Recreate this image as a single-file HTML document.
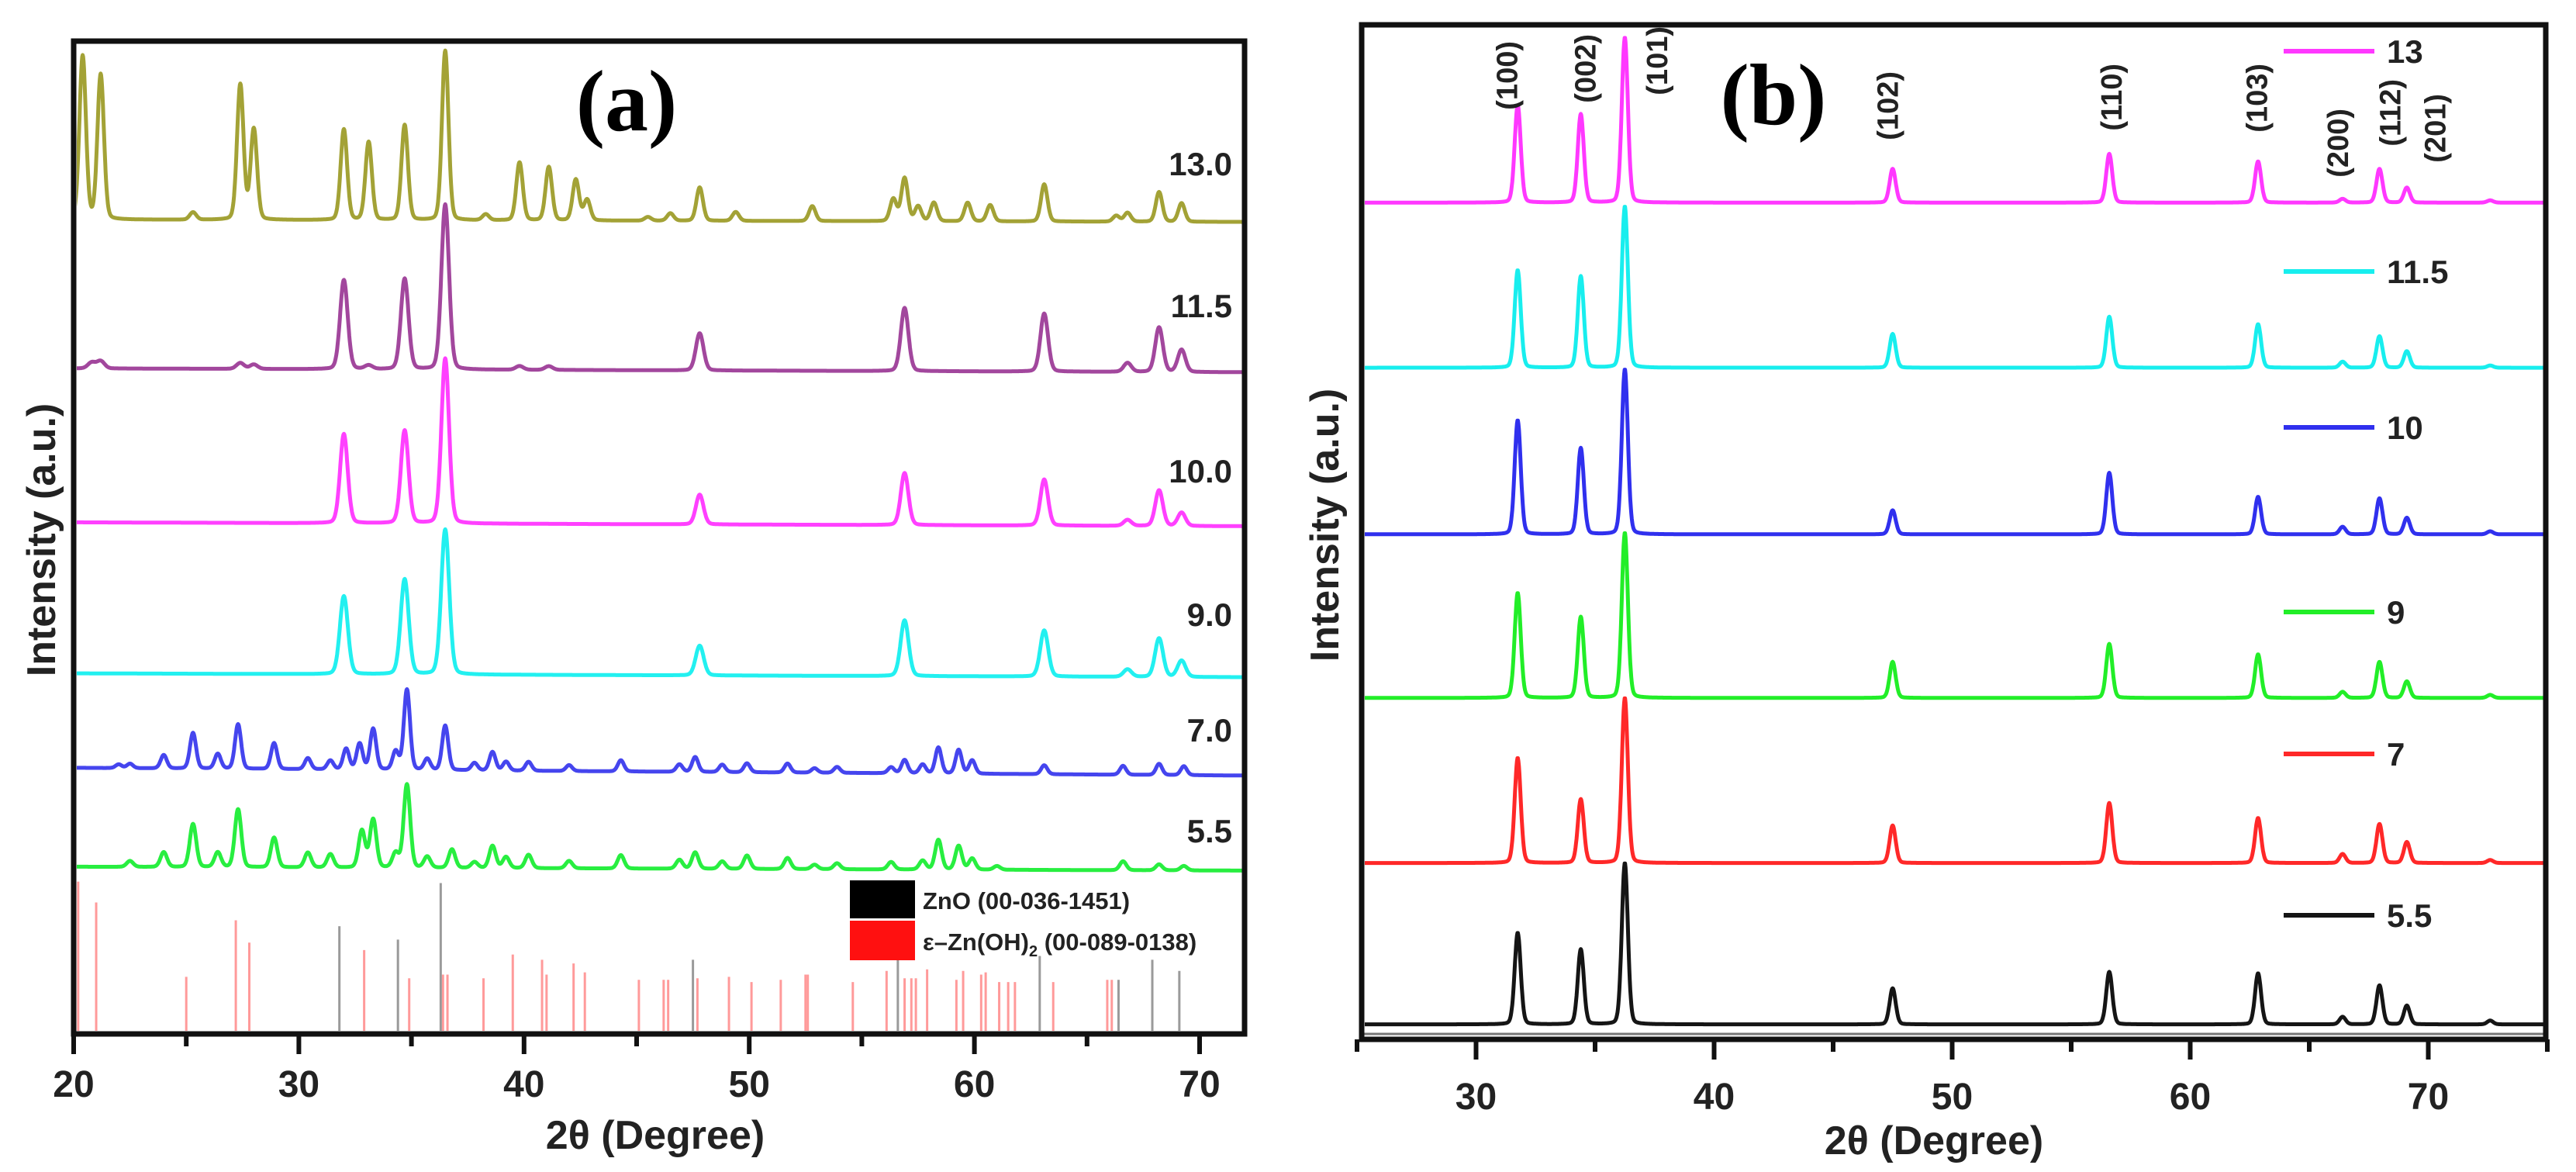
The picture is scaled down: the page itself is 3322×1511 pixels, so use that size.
<!DOCTYPE html>
<html><head><meta charset="utf-8">
<style>
html,body{margin:0;padding:0;background:#fff;}
svg{display:block;}
text{font-family:"Liberation Sans",Arial,sans-serif;font-weight:bold;fill:#222;}
</style></head>
<body>
<svg id="fig" width="3322" height="1511" viewBox="0 0 3322 1511" xmlns="http://www.w3.org/2000/svg">
<defs>
<clipPath id="clipA"><rect x="99" y="57" width="1503" height="1272"/></clipPath>
<clipPath id="clipB"><rect x="1760" y="34" width="1520" height="1302"/></clipPath>
</defs>
<g id="panelA"></g>
<g id="panelB"></g>
</svg>
<script>
// ---------- Panel (a) data ----------
const aTickLabels = [20,30,40,50,60,70];
const aSeriesNames = ["13.0","11.5","10.0","9.0","7.0","5.5"];
const aBase = [290,490,697,900,1027,1160];
const a13Pos = [20.4,21.2,25.3,27.4,28.0,32.0,33.1,34.7,36.5,38.3,39.8,41.1,42.3,42.8,45.5,46.5,47.8,49.4,52.8,56.4,56.9,57.5,58.2,59.7,60.7,63.1,66.3,66.8,68.2,69.2];
const a13H   = [220,195,10,182,122,122,105,128,228,8,78,72,55,28,5,10,45,12,20,30,58,20,25,25,22,50,8,12,40,25];
const a115Pos = [20.8,21.2,27.4,28.0,32.0,33.1,34.7,36.5,39.8,41.1,47.8,56.9,63.1,66.8,68.2,69.2];
const a115H   = [8,10,8,6,120,5,122,222,5,5,50,85,78,12,60,30];
const a10Pos = [32.0,34.7,36.5,47.8,56.9,63.1,66.8,68.2,69.2];
const a10H   = [120,125,222,40,70,62,8,48,18];
const a9Pos = [32.0,34.7,36.5,47.8,56.9,63.1,66.8,68.2,69.2];
const a9H   = [105,128,195,40,75,62,10,52,22];
const a7Pos = [22.0,22.5,24.0,25.3,26.4,27.3,28.9,30.4,31.4,32.1,32.7,33.3,34.3,34.8,35.7,36.5,37.8,38.6,39.2,40.2,42.0,44.3,46.9,47.6,48.8,49.9,51.7,52.9,53.9,56.3,56.9,57.7,58.4,59.3,59.9,63.1,66.6,68.2,69.3];
const a7H   = [5,6,18,48,20,60,35,15,12,28,35,55,25,108,15,60,10,25,12,12,8,15,10,20,10,12,12,6,8,8,18,12,35,32,18,12,12,15,12];
const a55Pos = [22.5,24.0,25.3,26.4,27.3,28.9,30.4,31.4,32.8,33.3,34.3,34.8,35.7,36.8,37.8,38.6,39.2,40.2,42.0,44.3,46.9,47.6,48.8,49.9,51.7,52.9,53.9,56.3,57.7,58.4,59.3,59.9,61.0,66.6,68.2,69.3];
const a55H   = [8,20,58,20,78,40,20,18,50,65,20,112,15,25,8,30,15,18,10,18,12,22,10,18,15,6,8,10,12,40,32,15,5,12,8,6];
const znoPos = [31.8,34.4,36.3,47.5,56.6,62.9,66.4,67.9,69.1];
const znoH   = [145,127,203,100,110,105,73,100,85];
const znohPos = [20.2,21.0,25.0,27.2,27.8,32.9,34.9,36.4,36.6,38.2,39.5,40.8,41.0,42.2,42.7,45.1,46.2,46.4,47.7,49.1,50.1,51.4,52.5,52.6,54.6,56.1,56.9,57.2,57.4,57.9,59.2,59.5,60.3,60.5,61.1,61.5,61.8,63.5,65.9,66.1];
const znohH   = [205,177,77,153,123,113,75,80,80,75,107,100,80,95,83,73,73,73,75,77,70,73,80,80,70,85,75,75,75,87,73,85,80,83,70,70,70,70,73,73];

// ---------- Panel (b) data ----------
const bTickLabels = [30,40,50,60,70];
const bPeakPos = [31.75,34.4,36.25,47.5,56.6,62.85,66.4,67.95,69.1,72.6];
const bNames = ["13","11.5","10","9","7","5.5"];
const bBase = [270,490,712,930,1150,1365];
const bH13  = [130,118,220,45,65,55,5,45,20,3];
const bH115 = [130,122,215,45,68,58,8,42,22,3];
const bH10  = [152,115,220,32,82,50,10,48,22,4];
const bH9   = [140,108,220,48,72,58,8,48,22,4];
const bH7   = [140,85,220,50,80,60,12,52,28,4];
const bH55  = [122,100,215,48,70,68,10,52,25,5];
const hklLabels = ["(100)","(002)","(101)","(102)","(110)","(103)","(200)","(112)","(201)"];
const hklPos = [31.3,34.6,37.6,47.3,56.7,62.8,66.2,68.4,70.3];

const NS="http://www.w3.org/2000/svg";
function mk(tag,attrs,parent,txt){const e=document.createElementNS(NS,tag);for(const k in attrs)e.setAttribute(k,attrs[k]);if(txt!==undefined)e.textContent=txt;parent.appendChild(e);return e;}

const ax = t => 95 + (t-20)*29.04;
const ayz = z => z*0.959 + 5;
const bx = t => 1750 + (t-25)*30.7;
const byz = z => z*0.9675;

function profile(t,pos,h,w){let s=0;for(let i=0;i<pos.length;i++){const d=(t-pos[i])/w;s+=h[i]*(0.85*Math.exp(-2.77*d*d)+0.15/(1+4*d*d));}return s;}
function pathFor(pos,h,base,w,X,Y,t0,t1,slope){let d="";for(let t=t0;t<=t1+1e-9;t+=0.02){const x=X(t),y=Y(base+slope*(t-t0)-profile(t,pos,h,w));d+=(d?"L":"M")+x.toFixed(1)+","+y.toFixed(1);}return d;}

const A=document.getElementById('panelA');
const B=document.getElementById('panelB');

// ---- Panel A ----
const gA=mk('g',{'clip-path':'url(#clipA)'},A);
const aPos=[a13Pos,a115Pos,a10Pos,a9Pos,a7Pos,a55Pos];
const aH=[a13H,a115H,a10H,a9H,a7H,a55H];
const aCol=["#a3a236","#a2479d","#ff40ff","#22f0f0","#4545ee","#28ee40"];
const aW=[0.34,0.4,0.4,0.42,0.32,0.34];
const aSlope=[0.06,0.1,0.1,0.1,0.2,0.1];
for(let s=0;s<6;s++){
  const p=mk('path',{d:pathFor(aPos[s],aH[s],aBase[s],aW[s],ax,ayz,20,72,aSlope[s]),fill:'none',stroke:aCol[s],'stroke-width':5,'stroke-linejoin':'round'},gA);
  
  
}
for(let i=0;i<znohPos.length;i++){
  const l=mk('line',{x1:ax(znohPos[i]),x2:ax(znohPos[i]),y1:ayz(1385),y2:ayz(1385-znohH[i]),stroke:'#ff9a9a','stroke-width':3},gA);
  
  
}
for(let i=0;i<znoPos.length;i++){
  const l=mk('line',{x1:ax(znoPos[i]),x2:ax(znoPos[i]),y1:ayz(1385),y2:ayz(1385-znoH[i]),stroke:'#9a9a9a','stroke-width':3},gA);
  
  
}
const aLblY=[211,394,607,792,941,1071];
for(let s=0;s<6;s++){
  const t=mk('text',{x:1589,y:aLblY[s]+15,'font-size':42,'text-anchor':'end'},A,aSeriesNames[s]);
  
  
}
const lg=mk('g',{},A);


mk('rect',{x:1096,y:1135,width:84,height:49,fill:'#000'},lg);
mk('rect',{x:1096,y:1187,width:84,height:51,fill:'#ff1010'},lg);
mk('text',{x:1190,y:1172,'font-size':31},lg,'ZnO (00-036-1451)');
const t2=mk('text',{x:1190,y:1225,'font-size':31},lg);
t2.innerHTML='ε–Zn(OH)<tspan font-size="20" dy="8">2</tspan><tspan dy="-8"> (00-089-0138)</tspan>';
const fa=mk('rect',{x:95,y:53,width:1510,height:1280,fill:'none',stroke:'#111','stroke-width':7},A);


for(let t=20;t<=72;t+=5){
  const major=(t%10===0);
  mk('line',{x1:ax(t),x2:ax(t),y1:1333,y2:1333+(major?26:16),stroke:'#111','stroke-width':6},A);
}
for(const v of aTickLabels){
  const t=mk('text',{x:ax(v),y:1414,'font-size':48,'text-anchor':'middle'},A,String(v));
  
  
}
const xa=mk('text',{x:845,y:1481,'font-size':52,'text-anchor':'middle'},A,'2θ (Degree)');


const ya=mk('text',{x:0,y:0,'font-size':52,'text-anchor':'middle',transform:'translate(71,696) rotate(-90)'},A,'Intensity (a.u.)');


const pa=mk('text',{x:808,y:168,'font-size':112,'text-anchor':'middle',style:'font-family:"Liberation Serif",serif;font-weight:bold;fill:#000'},A,'(a)');



// ---- Panel B ----
const gB=mk('g',{'clip-path':'url(#clipB)'},B);
const bH=[bH13,bH115,bH10,bH9,bH7,bH55];
const bCol=["#ff38ff","#18eeee","#3030ee","#22ee28","#ff2828","#151515"];
for(let s=0;s<6;s++){
  const p=mk('path',{d:pathFor(bPeakPos,bH[s],bBase[s],0.3,bx,byz,25,75,0),fill:'none',stroke:bCol[s],'stroke-width':5,'stroke-linejoin':'round'},gB);
  
  
}
mk('line',{x1:1756,x2:3283,y1:1333,y2:1333,stroke:'#777','stroke-width':3},B);
const bLegY=[66,350,551,789,972,1180];
for(let s=0;s<6;s++){
  const g=mk('g',{},B);
  
  
  mk('line',{x1:2945,x2:3062,y1:bLegY[s],y2:bLegY[s],stroke:bCol[s],'stroke-width':6},g);
  mk('text',{x:3078,y:bLegY[s]+15,'font-size':42},g,bNames[s]);
}
for(let i=0;i<hklLabels.length;i++){
  const tops=[53,44,34,92,82,82,140,102,121];
  const t=mk('text',{x:0,y:0,'font-size':38,'text-anchor':'end',transform:`translate(${bx(hklPos[i])+13},${tops[i]}) rotate(-90)`},B,hklLabels[i]);
  
  
}
const fb=mk('rect',{x:1756,y:32,width:1527,height:1308,fill:'none',stroke:'#111','stroke-width':7},B);


for(let t=25;t<=75;t+=5){
  const major=(t%10===0);
  mk('line',{x1:bx(t),x2:bx(t),y1:1340,y2:1340+(major?26:16),stroke:'#111','stroke-width':6},B);
}
for(const v of bTickLabels){
  const t=mk('text',{x:bx(v),y:1430,'font-size':48,'text-anchor':'middle'},B,String(v));
  
  
}
const xb=mk('text',{x:2494,y:1488,'font-size':52,'text-anchor':'middle'},B,'2θ (Degree)');


const yb=mk('text',{x:0,y:0,'font-size':52,'text-anchor':'middle',transform:'translate(1726,677) rotate(-90)'},B,'Intensity (a.u.)');


const pb=mk('text',{x:2287,y:160,'font-size':112,'text-anchor':'middle',style:'font-family:"Liberation Serif",serif;font-weight:bold;fill:#000'},B,'(b)');


</script>
</body></html>
